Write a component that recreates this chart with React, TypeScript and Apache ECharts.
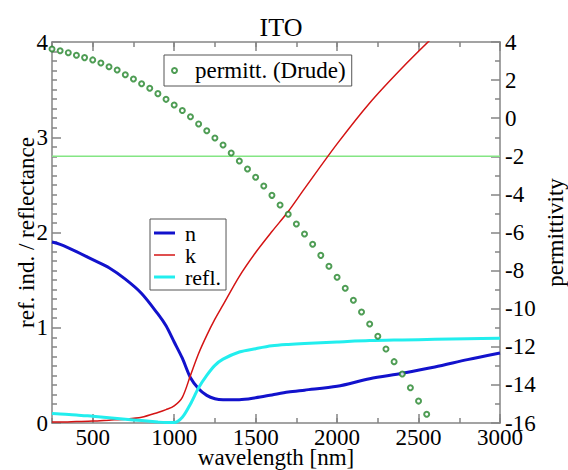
import React, { useEffect, useRef } from "react";
import * as echarts from "echarts";

// permittivity (Drude) sampled every 50 nm
const epsWavelength = [
  250, 300, 350, 400, 450, 500, 550, 600, 650, 700, 750, 800, 850, 900, 950, 1000,
  1050, 1100, 1150, 1200, 1250, 1300, 1350, 1400, 1450, 1500, 1550, 1600, 1650, 1700,
  1750, 1800, 1850, 1900, 1950, 2000, 2050, 2100, 2150, 2200, 2250, 2300, 2350, 2400,
  2450, 2500, 2550,
];
const epsValues = [
  3.63, 3.54, 3.44, 3.3, 3.18, 3.06, 2.9, 2.7, 2.53, 2.28, 2.06, 1.81, 1.57, 1.29, 0.99, 0.69,
  0.4, 0.08, -0.3, -0.66, -1.04, -1.41, -1.83, -2.25, -2.67, -3.1, -3.56, -4.05, -4.56, -5.04,
  -5.55, -6.08, -6.62, -7.2, -7.77, -8.35, -8.93, -9.56, -10.17, -10.8, -11.45, -12.12, -12.78,
  -13.43, -14.15, -14.85, -15.54,
];
const epsReference = -2;

// optical constants
const wavelength = [
  250, 300, 400, 500, 600, 700, 800, 900, 950, 1000, 1050, 1100, 1150, 1200, 1250, 1300,
  1400, 1500, 1600, 1700, 1800, 2000, 2200, 2400, 2600, 2800, 3000,
];
const nValues = [
  1.9, 1.875, 1.8, 1.715, 1.63, 1.51, 1.36, 1.145, 1.02, 0.85, 0.68, 0.475, 0.36, 0.29, 0.255, 0.245,
  0.245, 0.265, 0.295, 0.325, 0.345, 0.385, 0.465, 0.522, 0.587, 0.665, 0.735,
];
const kValues = [
  0.01, 0.01, 0.015, 0.02, 0.03, 0.04, 0.06, 0.11, 0.14, 0.18, 0.27, 0.5, 0.73, 0.92, 1.09, 1.24,
  1.54, 1.79, 2.01, 2.22, 2.46, 2.93, 3.36, 3.73, 4.07,
];
const reflValues = [
  0.1, 0.095, 0.085, 0.07, 0.055, 0.04, 0.025, 0.01, 0.005, 0.005, 0.06, 0.2, 0.37, 0.5, 0.605, 0.67,
  0.745, 0.78, 0.81, 0.825, 0.835, 0.85, 0.865, 0.872, 0.878, 0.884, 0.889,
];
const xMajorTicks = [500, 1000, 1500, 2000, 2500, 3000];

const FONT = "'Liberation Serif', 'Times New Roman', serif";
const AXIS_COLOR = "#858585";
const THICK_ICON = "path://M0,0M26,10M0,3.5H21V6.5H0Z";
const THIN_ICON = "path://M0,0M26,10M0,4.25H21V5.75H0Z";

const zip = (xs: number[], ys: number[]) =>
  ys.map((y, i) => [xs[i], y]).filter((p) => p[0] !== undefined);

export default function App() {
  const ref = useRef<HTMLDivElement>(null);
  useEffect(() => {
    if (!ref.current) return;
    const chart = echarts.init(ref.current, null, { renderer: "svg" });
    const xBase = {
      type: "value",
      min: 250,
      max: 3000,
      gridIndex: 0,
      splitLine: { show: false },
    };
    const tickLine = { color: AXIS_COLOR, width: 1.5 };
    const lineBase = {
      type: "line",
      xAxisIndex: 0,
      yAxisIndex: 0,
      symbol: "none",
      showSymbol: false,
      clip: true,
      smooth: 0.3,
      z: 2,
    };
    chart.setOption({
      animation: false,
      backgroundColor: "#ffffff",
      title: {
        text: "ITO",
        left: 276,
        textAlign: "center",
        top: 9,
        textStyle: { fontFamily: FONT, fontSize: 26, fontWeight: "normal", color: "#000" },
      },
      grid: { left: 52, right: 68, top: 42, bottom: 47, outerBoundsMode: "none" },
      legend: [
        {
          data: ["permitt. (Drude)"],
          left: 164,
          top: 55,
          orient: "horizontal",
          itemWidth: 31,
          itemHeight: 5,
          padding: [4, 6, 4, 7],
          borderColor: "#555",
          borderWidth: 1,
          textStyle: { fontFamily: FONT, fontSize: 23, color: "#000", lineHeight: 23 },
        },
        {
          data: [
            { name: "n", icon: THICK_ICON },
            { name: "k", icon: THIN_ICON },
            { name: "refl.", icon: THICK_ICON },
          ],
          left: 150,
          top: 219,
          orient: "vertical",
          itemGap: 0,
          itemWidth: 26,
          itemHeight: 10,
          padding: [3, 5, 2, 4],
          borderColor: "#555",
          borderWidth: 1,
          textStyle: { fontFamily: FONT, fontSize: 22, color: "#000", lineHeight: 19 },
        },
      ],
      xAxis: [
        {
          ...xBase,
          position: "bottom",
          interval: 250,
          name: "wavelength [nm]",
          nameLocation: "middle",
          nameGap: 23,
          nameMoveOverlap: false,
          nameTextStyle: { fontFamily: FONT, fontSize: 23, color: "#000" },
          axisLine: { show: true, onZero: false, lineStyle: tickLine },
          axisTick: { show: true, inside: true, length: 5, lineStyle: tickLine },
          axisLabel: {
            margin: 3,
            fontFamily: FONT,
            fontSize: 23,
            color: "#000",
            formatter: (v: number) => (v % 500 === 0 ? String(v) : ""),
          },
        },
        {
          ...xBase,
          position: "bottom",
          axisLine: { show: false, onZero: false },
          axisTick: { show: true, inside: true, length: 9, customValues: xMajorTicks, lineStyle: tickLine },
          axisLabel: { show: false },
        },
        {
          ...xBase,
          position: "top",
          interval: 250,
          axisLine: { show: true, onZero: false, lineStyle: tickLine },
          axisTick: { show: true, inside: true, length: 5, lineStyle: tickLine },
          axisLabel: { show: false },
        },
        {
          ...xBase,
          position: "top",
          axisLine: { show: false, onZero: false },
          axisTick: { show: true, inside: true, length: 9, customValues: xMajorTicks, lineStyle: tickLine },
          axisLabel: { show: false },
        },
      ],
      yAxis: [
        {
          type: "value",
          position: "left",
          min: 0,
          max: 4,
          interval: 1,
          name: "ref. ind. / reflectance",
          nameLocation: "middle",
          nameRotate: 90,
          nameGap: 14,
          nameMoveOverlap: false,
          nameTextStyle: { fontFamily: FONT, fontSize: 23, color: "#000" },
          splitLine: { show: false },
          axisLine: { show: true, onZero: false, lineStyle: tickLine },
          axisTick: { show: true, inside: true, length: 9, lineStyle: tickLine },
          minorTick: { show: true, splitNumber: 10, length: 5, lineStyle: tickLine },
          axisLabel: { margin: 4, fontFamily: FONT, fontSize: 23, color: "#000" },
        },
        {
          type: "value",
          position: "right",
          min: -16,
          max: 4,
          interval: 2,
          name: "permittivity",
          nameLocation: "middle",
          nameRotate: 90,
          nameGap: 44,
          nameMoveOverlap: false,
          nameTextStyle: { fontFamily: FONT, fontSize: 23, color: "#000" },
          splitLine: { show: false },
          axisLine: { show: true, onZero: false, lineStyle: tickLine },
          axisTick: { show: true, inside: true, length: 9, lineStyle: tickLine },
          minorTick: { show: true, splitNumber: 2, length: 5, lineStyle: tickLine },
          axisLabel: { margin: 5, fontFamily: FONT, fontSize: 23, color: "#000" },
        },
      ],
      series: [
        {
          name: "eps ref",
          type: "line",
          xAxisIndex: 0,
          yAxisIndex: 1,
          symbol: "none",
          silent: true,
          data: [
            [250, epsReference],
            [3000, epsReference],
          ],
          lineStyle: { color: "#84e684", width: 1.5 },
          z: 1,
        },
        {
          ...lineBase,
          name: "n",
          data: zip(wavelength, nValues),
          color: "#1212cc",
          lineStyle: { color: "#1212cc", width: 3 },
        },
        {
          ...lineBase,
          name: "k",
          data: zip(wavelength, kValues),
          color: "#d41414",
          lineStyle: { color: "#d41414", width: 1.5 },
        },
        {
          ...lineBase,
          name: "refl.",
          data: zip(wavelength, reflValues),
          color: "#22eeee",
          lineStyle: { color: "#22eeee", width: 3 },
        },
        {
          name: "permitt. (Drude)",
          type: "scatter",
          xAxisIndex: 0,
          yAxisIndex: 1,
          symbol: "emptyCircle",
          symbolSize: 5,
          data: zip(epsWavelength, epsValues),
          color: "#23842a",
          itemStyle: { color: "#23842a", borderColor: "#23842a", borderWidth: 1.6 },
          z: 3,
        },
      ],
    });
    return () => chart.dispose();
  }, []);
  return (
    <div
      ref={ref}
      style={{ position: "fixed", left: 0, top: 0, width: 568, height: 470, background: "#fff" }}
    />
  );
}
